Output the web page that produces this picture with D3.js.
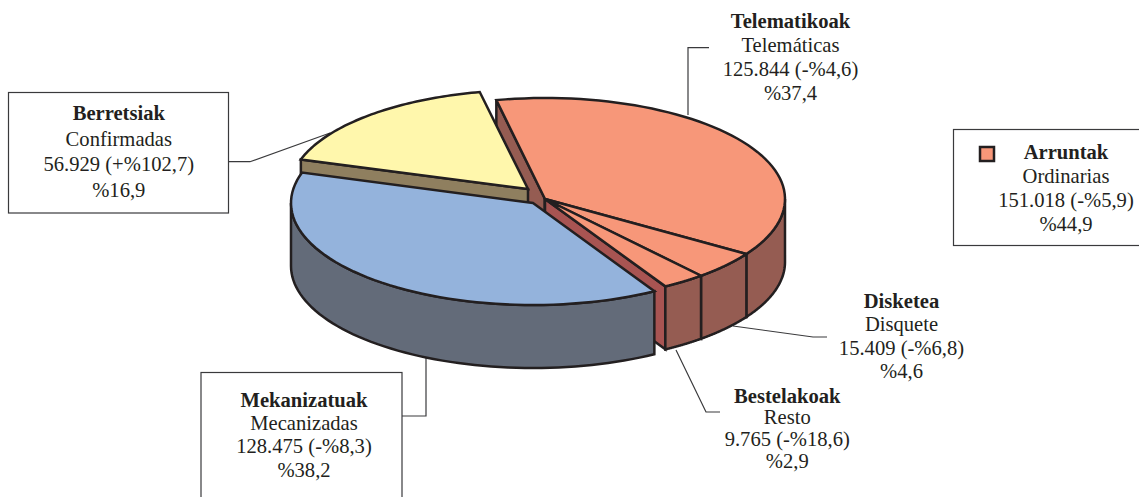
<!DOCTYPE html>
<html>
<head>
<meta charset="utf-8">
<script src="https://cdn.jsdelivr.net/npm/d3@7"></script>
<style>
  html, body { margin: 0; padding: 0; background: #fff; }
  svg { display: block; }
  text { font-family: "Liberation Serif", serif; font-size: 20.6px; fill: #231f20; text-anchor: middle; }
  .name { font-weight: bold; }
  .box { fill: #fff; stroke: #3a3a3c; stroke-width: 1.2; }
  .leader { fill: none; stroke: #3a3a3c; stroke-width: 1.2; }
  .mark { stroke: #231f20; stroke-width: 2.5; stroke-linejoin: miter; }
</style>
</head>
<body>
<div class="chart"></div>
<script>
// data
var names = ["Telematikoak", "Disketea", "Bestelakoak", "Mekanizatuak", "Berretsiak"];
var namesEs = ["Telemáticas", "Disquete", "Resto", "Mecanizadas", "Confirmadas"];
var values = [125844, 15409, 9765, 128475, 56929];
var valueLabels = ["125.844 (-%4,6)", "15.409 (-%6,8)", "9.765 (-%18,6)", "128.475 (-%8,3)", "56.929 (+%102,7)"];
var shareLabels = ["%37,4", "%4,6", "%2,9", "%38,2", "%16,9"];
var groupLines = ["Arruntak", "Ordinarias", "151.018 (-%5,9)", "%44,9"];

// dimensions
var width = 1139;
var height = 497;
var depth = 63;
var rad = Math.PI / 180;

// colours and centre of each slice (the pie is pulled apart)
var topColors = ["#f79779", "#f79779", "#f79779", "#94b3dc", "#fff7ac"];
var wallColors = ["#955c52", "#955c52", "#955c52", "#636b79", "#8f7f5f"];
var cutColors = ["#955c52", "#955c52", "#a85452", "#636b79", "#8f7f5f"];
var centres = [[545, 199], [545, 199], [545, 199], [533, 203], [528, 189]];
var radii = [[240, 101], [240, 101], [240, 101], [242, 102], [238, 99]];

// label layout: centre x, first baseline, line step
var labelX = [790.5, 901.5, 787.3, 304, 118.8];
var labelY = [27.7, 307.7, 402.7, 406.7, 120];
var lineSteps = [24, 23.5, 21.7, 23.3, 25.5];

var svg = d3.select(".chart")
  .append("svg")
  .attr("width", width)
  .attr("height", height);

var pie = d3.pie()
  .sort(null)
  .startAngle(-11.7 * rad)
  .endAngle(348.3 * rad);

var slices = pie(values);

// point on the rim of slice i, z pixels below the top face
function rim(i, a, z) {
  return [
    centres[i][0] + radii[i][0] * Math.sin(a),
    centres[i][1] - radii[i][1] * Math.cos(a) + z
  ];
}

function arcPoints(i, a0, a1, z) {
  return d3.range(0, 61).map(function(k) {
    return rim(i, a0 + (a1 - a0) * k / 60, z);
  });
}

var line = d3.line();

function topPath(d, i) {
  var apex = centres[i];
  return line([apex].concat(arcPoints(i, d.startAngle, d.endAngle, 0))) + "Z";
}

// outer wall, only the part that faces the viewer
function wallPath(d, i) {
  var a0 = Math.max(d.startAngle, 90 * rad);
  var a1 = Math.min(d.endAngle, 270 * rad);
  if (a1 <= a0) return null;
  return line(arcPoints(i, a0, a1, 0).concat(arcPoints(i, a1, a0, depth))) + "Z";
}

// flat cut face running from the centre to the rim
function cutPath(i, a) {
  var apex = centres[i];
  var p = rim(i, a, 0);
  return line([apex, p, [p[0], p[1] + depth], [apex[0], apex[1] + depth]]) + "Z";
}

function drawSlices(group, list) {
  list.forEach(function(i) {
    var d = slices[i];
    if (Math.sin(d.startAngle) < 0) {
      group.append("path").attr("class", "mark").attr("fill", cutColors[i]).attr("d", cutPath(i, d.startAngle));
    }
    if (Math.sin(d.endAngle) > 0) {
      group.append("path").attr("class", "mark").attr("fill", cutColors[i]).attr("d", cutPath(i, d.endAngle));
    }
  });
  list.forEach(function(i) {
    var w = wallPath(slices[i], i);
    if (w) group.append("path").attr("class", "mark").attr("fill", wallColors[i]).attr("d", w);
  });
  list.forEach(function(i) {
    group.append("path").attr("class", "mark").attr("fill", topColors[i]).attr("d", topPath(slices[i], i));
  });
}

// leaders go under the pie
var leaders = [
  [[688, 115], [688, 47.7], [709, 47.7]],
  [[733, 326], [813, 337], [827, 337]],
  [[676, 350], [706, 412], [720, 412]],
  [[402, 416], [426, 416], [426, 358]],
  [[228, 161.7], [250, 161.7], [330, 133]]
];
svg.selectAll(".leader")
  .data(leaders)
  .enter()
  .append("path")
  .attr("class", "leader")
  .attr("d", function(d) { return line(d); });

// back to front: orange group, yellow slice, blue slice
drawSlices(svg.append("g"), [0, 1, 2]);
drawSlices(svg.append("g"), [4]);
drawSlices(svg.append("g"), [3]);

// boxes
var boxes = [[8.5, 92.5, 220, 120.5], [201, 372.5, 201, 130], [953.5, 129.5, 190, 116]];
svg.selectAll(".box")
  .data(boxes)
  .enter()
  .append("rect")
  .attr("class", "box")
  .attr("x", function(d) { return d[0]; })
  .attr("y", function(d) { return d[1]; })
  .attr("width", function(d) { return d[2]; })
  .attr("height", function(d) { return d[3]; });

// labels
function addLabel(x, y, step, lines) {
  var t = svg.append("text").attr("x", x).attr("y", y);
  lines.forEach(function(s, k) {
    t.append("tspan")
      .attr("class", k === 0 ? "name" : null)
      .attr("x", x)
      .attr("y", y + k * step)
      .text(s);
  });
}

names.forEach(function(n, i) {
  addLabel(labelX[i], labelY[i], lineSteps[i], [n, namesEs[i], valueLabels[i], shareLabels[i]]);
});

// legend box for the whole orange group
svg.append("rect")
  .attr("class", "mark")
  .attr("x", 980)
  .attr("y", 147)
  .attr("width", 14)
  .attr("height", 14)
  .attr("fill", topColors[0]);
addLabel(1066, 159, 24, groupLines);
</script>
</body>
</html>
